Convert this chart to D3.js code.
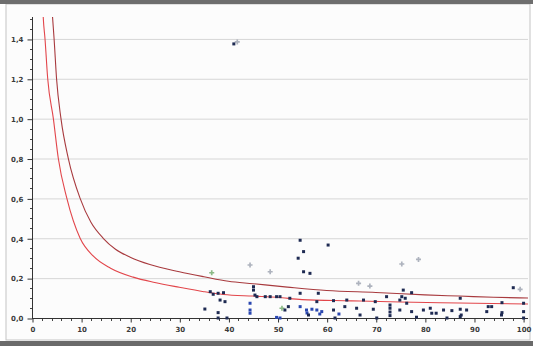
<!DOCTYPE html>
<html>
<head>
<meta charset="utf-8">
<script src="https://cdn.jsdelivr.net/npm/d3@7"></script>
<style>
  html, body { margin: 0; padding: 0; background: #ffffff; }
  svg { display: block; }
  .tick text { font-family: "DejaVu Sans", sans-serif; font-size: 7px; font-weight: bold; fill: #3a3a3a; }
</style>
</head>
<body>
<svg id="chart" width="533" height="346"></svg>
<script>
// x / y tick values
const xTicks = [0, 10, 20, 30, 40, 50, 60, 70, 80, 90, 100];
const yTicks = [0, 0.2, 0.4, 0.6, 0.8, 1.0, 1.2, 1.4];

// upper control limit (x, y)
const upperLimit = [
  [3.9, 1.62], [4.2, 1.504], [4.5, 1.4], [5.0, 1.2], [5.9, 1.0], [7.4, 0.8],
  [9.8, 0.6], [12, 0.48], [14.5, 0.4], [17, 0.345], [20, 0.305], [24, 0.268],
  [30, 0.232], [35, 0.207], [40, 0.184], [45, 0.172], [52, 0.155], [60, 0.138],
  [70, 0.128], [80, 0.116], [87, 0.11], [94, 0.104], [101, 0.1]
];

// lower control limit (x, y)
const lowerLimit = [
  [2.1, 1.62], [2.3, 1.504], [2.65, 1.4], [3.2, 1.2], [4.35, 1.0], [5.36, 0.8],
  [7.1, 0.6], [9.8, 0.4], [12.5, 0.31], [16, 0.25], [20.6, 0.205], [25, 0.178],
  [30, 0.154], [35, 0.132], [39, 0.118], [45, 0.11], [50, 0.104], [55, 0.092],
  [65, 0.086], [75, 0.08], [87, 0.075], [101, 0.07]
];

// dark markers
const darkPoints = [
  [41.1, 1.375],
  [54.6, 0.39], [55.3, 0.333], [54.2, 0.30], [60.3, 0.366],
  [55.3, 0.232], [56.6, 0.224],
  [36.3, 0.132], [36.9, 0.119], [37.9, 0.124], [39.0, 0.127], [38.3, 0.09],
  [39.3, 0.082], [35.2, 0.045], [37.9, 0.027], [37.9, 0.0], [39.7, 0.0],
  [45.1, 0.157], [45.1, 0.14], [45.4, 0.115], [45.8, 0.107], [47.5, 0.107],
  [48.5, 0.107], [49.8, 0.107], [50.5, 0.107], [51.5, 0.04],
  [54.6, 0.124], [58.3, 0.124], [52.5, 0.099], [58.0, 0.082], [61.4, 0.087],
  [64.1, 0.09], [67.5, 0.09], [69.9, 0.082], [52.2, 0.057], [61.4, 0.04],
  [63.7, 0.057], [66.1, 0.049], [69.5, 0.044], [56.3, 0.015], [61.7, 0.0],
  [66.8, 0.015], [70.2, 0.0],
  [72.2, 0.107], [75.6, 0.14], [77.3, 0.127], [75.3, 0.107], [76.0, 0.099],
  [74.9, 0.09], [76.3, 0.074], [74.9, 0.04], [77.3, 0.032],
  [72.9, 0.065], [72.9, 0.049], [72.9, 0.03], [72.9, 0.012],
  [79.7, 0.04], [81.1, 0.049], [81.4, 0.024], [83.8, 0.04], [85.5, 0.037],
  [87.2, 0.099], [87.2, 0.044], [88.5, 0.04], [87.2, 0.007], [78.3, 0.004],
  [84.5, 0.0], [82.3, 0.024], [87.4, 0.015],
  [98.0, 0.152], [93.6, 0.057], [92.9, 0.057], [95.7, 0.077], [100.1, 0.074],
  [92.6, 0.032], [95.7, 0.027], [100.1, 0.032], [100.1, 0.0], [95.6, 0.015]
];

// blue markers
const bluePoints = [
  [44.4, 0.074], [44.4, 0.04], [44.4, 0.024], [50.5, 0.0], [49.8, 0.003],
  [54.6, 0.057], [55.9, 0.04], [57.0, 0.044], [58.0, 0.04], [59.0, 0.032],
  [56.0, 0.025], [58.6, 0.02], [62.5, 0.02]
];

// pale markers
const palePoints = [
  [41.8, 1.385], [44.4, 0.266], [48.5, 0.232], [66.5, 0.174], [68.8, 0.16],
  [75.3, 0.271], [78.7, 0.294], [99.4, 0.144]
];

// green markers
const greenPoints = [
  [36.6, 0.227], [50.9, 0.049]
];

const svg = d3.select("#chart");
const W = 533, H = 346;

// window frame
svg.append("rect").attr("x", 0).attr("y", 0).attr("width", W).attr("height", H).attr("fill", "#ffffff");
svg.append("rect").attr("x", 6).attr("y", 4).attr("width", 524).attr("height", 336)
  .attr("fill", "#fcfcfc").attr("stroke", "#c4c4c4").attr("stroke-width", 1);
svg.append("rect").attr("x", 0).attr("y", 0).attr("width", W).attr("height", 4).attr("fill", "#6e6e6e");
svg.append("rect").attr("x", 0).attr("y", 341).attr("width", W).attr("height", 5).attr("fill", "#6a6a6a");

const x = d3.scaleLinear().domain([0, 101]).range([32, 528]);
const y = d3.scaleLinear().domain([0, 1.51]).range([318, 17]);

const locale = d3.formatLocale({ decimal: ",", thousands: ".", grouping: [3], currency: ["", ""] });
const fmt = locale.format(".1f");

// horizontal gridlines
svg.append("g").selectAll("line").data(yTicks.slice(1)).join("line")
  .attr("x1", 32).attr("x2", x(101))
  .attr("y1", d => y(d) + 0.5).attr("y2", d => y(d) + 0.5)
  .attr("stroke", "#d6d6d6").attr("stroke-width", 1);

// clip for the limit curves
svg.append("clipPath").attr("id", "plotClip")
  .append("rect").attr("x", 32).attr("y", 17).attr("width", x(101) - 32).attr("height", 301);

const line = d3.line().x(d => x(d[0])).y(d => y(d[1])).curve(d3.curveMonotoneX);

svg.append("path").datum(lowerLimit).attr("d", line)
  .attr("clip-path", "url(#plotClip)")
  .attr("fill", "none").attr("stroke", "#e2454a").attr("stroke-width", 1.1);
svg.append("path").datum(upperLimit).attr("d", line)
  .attr("clip-path", "url(#plotClip)")
  .attr("fill", "none").attr("stroke", "#a83a3e").attr("stroke-width", 1.1);

// axes
const yAxis = d3.axisLeft(y).tickValues(yTicks).tickFormat(fmt).tickSize(5).tickPadding(4);
const gy = svg.append("g").attr("transform", "translate(32.5,0.5)").call(yAxis);
gy.select(".domain").remove();
gy.selectAll(".tick line").attr("stroke", "#333");
const yMinor = d3.range(0, 1.501, 0.05).filter(v => !yTicks.some(t => Math.abs(t - v) < 1e-6));
svg.append("g").selectAll("line").data(yMinor).join("line")
  .attr("x1", 30).attr("x2", 32.5)
  .attr("y1", d => Math.round(y(d)) + 0.5).attr("y2", d => Math.round(y(d)) + 0.5)
  .attr("stroke", "#444");
svg.append("line").attr("x1", 32.5).attr("x2", 32.5).attr("y1", 17).attr("y2", 318.5)
  .attr("stroke", "#333").attr("stroke-width", 1);

const xAxis = d3.axisBottom(x).tickValues(xTicks).tickFormat(d3.format("d")).tickSize(4).tickPadding(5);
const gx = svg.append("g").attr("transform", "translate(0.5,318.5)").call(xAxis);
gx.select(".domain").remove();
gx.selectAll(".tick line").attr("stroke", "#333");
const xMinor = d3.range(0, 101, 2).filter(v => v % 10 !== 0);
svg.append("g").selectAll("line").data(xMinor).join("line")
  .attr("x1", d => Math.round(x(d)) + 0.5).attr("x2", d => Math.round(x(d)) + 0.5)
  .attr("y1", 318.5).attr("y2", 321)
  .attr("stroke", "#444");
svg.append("line").attr("x1", 32).attr("x2", x(101)).attr("y1", 318.5).attr("y2", 318.5)
  .attr("stroke", "#333").attr("stroke-width", 1);

// markers
const sq = d3.symbol().type(d3.symbolSquare).size(9);
const cr = d3.symbol().type(d3.symbolCross).size(14);

function drawPoints(data, sym, color, opacity) {
  svg.append("g").selectAll("path").data(data).join("path")
    .attr("transform", d => `translate(${x(d[0])},${y(d[1])})`)
    .attr("d", sym)
    .attr("fill", color).attr("fill-opacity", opacity);
}
drawPoints(palePoints, cr, "#9aa0ae", 0.8);
drawPoints(greenPoints, cr, "#7fb27a", 0.9);
drawPoints(bluePoints, sq, "#2a47b0", 1);
drawPoints(darkPoints, sq, "#1e2a52", 1);
</script>
</body>
</html>
